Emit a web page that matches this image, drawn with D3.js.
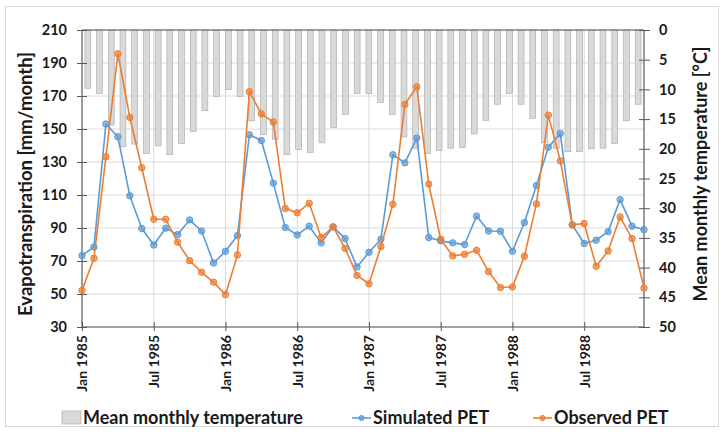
<!DOCTYPE html>
<html>
<head>
<meta charset="utf-8">
<script src="https://cdn.jsdelivr.net/npm/d3@7"></script>
<style>
  body { margin: 0; background: #fff; }
  svg text { font-family: Lato, "Open Sans", sans-serif; font-weight: 700; fill: #1a1a1a; }
</style>
</head>
<body>
<div id="chart"></div>
<script>
// monthly series, Jan 1985 .. Dec 1988
const months = d3.range(48);
const tickMonths = [0, 6, 12, 18, 24, 30, 36, 42];
const tickLabels = ['Jan 1985', 'Jul 1985', 'Jan 1986', 'Jul 1986', 'Jan 1987', 'Jul 1987', 'Jan 1988', 'Jul 1988'];
const petTicks = [30, 50, 70, 90, 110, 130, 150, 170, 190, 210];
const tempTicks = [0, 5, 10, 15, 20, 25, 30, 35, 40, 45, 50];

const temperature = [
  9.8, 10.7, 16.0, 19.6, 19.2, 20.8, 19.5, 21.0, 19.1, 17.1, 13.6, 11.2,
  10.0, 11.2, 15.3, 17.6, 18.4, 21.0, 20.1, 20.6, 19.0, 16.4, 14.2, 10.7,
  10.7, 12.2, 14.2, 18.0, 19.9, 20.8, 20.3, 19.9, 19.8, 17.5, 15.2, 12.5,
  10.7, 12.5, 14.9, 19.0, 19.9, 20.5, 20.5, 20.0, 19.9, 19.1, 15.3, 12.5
];
const simulated = [
  73.3, 78.5, 153.0, 145.3, 109.5, 89.7, 79.7, 89.9, 86.0, 94.9, 88.2, 68.8,
  75.9, 85.4, 146.5, 143.0, 117.2, 90.3, 85.8, 91.1, 81.0, 90.7, 83.6, 66.4,
  75.3, 83.2, 134.4, 129.5, 144.5, 84.2, 82.2, 81.0, 80.0, 97.3, 88.2, 88.0,
  75.9, 93.3, 115.7, 139.0, 147.3, 91.9, 80.6, 82.6, 87.8, 107.2, 91.1, 89.0
];
const observed = [
  52.2, 71.7, 133.1, 195.6, 157.0, 126.5, 95.3, 95.3, 81.4, 70.2, 63.2, 57.1,
  49.6, 73.7, 172.6, 159.2, 154.2, 101.8, 99.2, 105.0, 84.2, 90.7, 77.7, 61.3,
  56.2, 78.8, 104.4, 164.9, 175.6, 116.6, 83.2, 73.1, 74.1, 76.5, 63.6, 53.9,
  54.3, 72.9, 104.6, 158.4, 130.7, 91.9, 92.7, 66.8, 76.1, 96.7, 83.6, 53.6
];

const W = 724, H = 432;
const m = { left: 82, right: 644, top: 30, bottom: 327 };
const axisColor = '#595959';
const gridColor = '#d9d9d9';
const blue = '#5b9bd5', orange = '#ed7d31';

const svg = d3.select('#chart').append('svg').attr('width', W).attr('height', H);

// outer chart border
svg.append('rect')
  .attr('x', 5.5).attr('y', 6.5).attr('width', 713).attr('height', 420)
  .attr('fill', 'none').attr('stroke', '#d9d9d9');

const x = d3.scaleLinear().domain([0, 47]).range([m.left, m.right]);
const xBand = d3.scaleBand().domain(months).range([m.left, m.right]).paddingInner(0.5).paddingOuter(0.25);
const y = d3.scaleLinear().domain([30, 210]).range([m.bottom, m.top]);
const yT = d3.scaleLinear().domain([0, 50]).range([m.top, m.bottom]);

// gridlines
svg.append('g').selectAll('line').data(petTicks).join('line')
  .attr('x1', m.left).attr('x2', m.right)
  .attr('y1', d => y(d)).attr('y2', d => y(d))
  .attr('stroke', gridColor);
svg.append('g').selectAll('line').data(tickMonths.slice(1)).join('line')
  .attr('x1', d => x(d)).attr('x2', d => x(d))
  .attr('y1', m.top).attr('y2', m.bottom)
  .attr('stroke', gridColor);

// temperature bars hanging from the top
svg.append('g').selectAll('rect').data(temperature).join('rect')
  .attr('x', (d, i) => xBand(i))
  .attr('y', yT(0))
  .attr('width', xBand.bandwidth())
  .attr('height', d => yT(d) - yT(0))
  .attr('fill', '#d9d9d9')
  .attr('stroke', '#a6a6a6')
  .attr('stroke-width', 0.6);

// axes box
const box = svg.append('g').attr('stroke', axisColor).attr('stroke-width', 1.2);
box.append('line').attr('x1', m.left).attr('x2', m.right).attr('y1', m.top).attr('y2', m.top);
box.append('line').attr('x1', m.left).attr('x2', m.right).attr('y1', m.bottom).attr('y2', m.bottom);
box.append('line').attr('x1', m.left).attr('x2', m.left).attr('y1', m.top).attr('y2', m.bottom);
box.append('line').attr('x1', m.right).attr('x2', m.right).attr('y1', m.top).attr('y2', m.bottom);

// left axis
const yAxis = d3.axisLeft(y).tickValues(petTicks).tickSizeInner(5).tickSizeOuter(0).tickPadding(10);
const gy = svg.append('g').attr('transform', `translate(${m.left},0)`).call(yAxis);
gy.select('.domain').remove();
gy.selectAll('.tick line').attr('x2', 5).attr('x1', -5).attr('stroke', axisColor);
gy.selectAll('.tick text').style('font-size', '14.5px').attr('fill', '#1a1a1a');

// right axis
const tAxis = d3.axisRight(yT).tickValues(tempTicks).tickSizeInner(5).tickSizeOuter(0).tickPadding(10);
const gt = svg.append('g').attr('transform', `translate(${m.right},0)`).call(tAxis);
gt.select('.domain').remove();
gt.selectAll('.tick line').attr('x1', -5).attr('x2', 6).attr('stroke', axisColor);
gt.selectAll('.tick text').style('font-size', '14.5px').attr('fill', '#1a1a1a');

// bottom axis
const xAxis = d3.axisBottom(x).tickValues(tickMonths).tickFormat((d, i) => tickLabels[i]).tickSizeInner(5).tickSizeOuter(0);
const gx = svg.append('g').attr('transform', `translate(0,${m.bottom})`).call(xAxis);
gx.select('.domain').remove();
gx.selectAll('.tick line').attr('y1', -5).attr('y2', 4).attr('stroke', axisColor);
gx.selectAll('.tick text')
  .style('font-size', '14px').attr('fill', '#1a1a1a')
  .attr('transform', 'rotate(-90)')
  .attr('x', -8).attr('y', 0).attr('dy', '0.35em')
  .attr('text-anchor', 'end');

// axis titles
svg.append('text')
  .attr('transform', 'translate(27,184) rotate(-90)')
  .attr('text-anchor', 'middle').attr('dominant-baseline', 'middle')
  .style('font-size', '18.5px')
  .text('Evapotranspiration [mm/month]');
svg.append('text')
  .attr('transform', 'translate(702,174) rotate(-90)')
  .attr('text-anchor', 'middle').attr('dominant-baseline', 'middle')
  .style('font-size', '18px')
  .text('Mean monthly temperature [°C]');

// PET lines
const line = d3.line().x((d, i) => x(i)).y(d => y(d));
function drawSeries(values, color) {
  const g = svg.append('g');
  g.append('path').datum(values)
    .attr('d', line)
    .attr('fill', 'none')
    .attr('stroke', color)
    .attr('stroke-width', 1.6)
    .attr('stroke-linejoin', 'round');
  g.selectAll('circle').data(values).join('circle')
    .attr('cx', (d, i) => x(i))
    .attr('cy', d => y(d))
    .attr('r', 3.2)
    .attr('fill', color).attr('fill-opacity', 0.7)
    .attr('stroke', color).attr('stroke-width', 1);
}
drawSeries(simulated, blue);
drawSeries(observed, orange);

// legend
const legend = svg.append('g').attr('transform', 'translate(0,418)');
legend.append('rect').attr('x', 62).attr('y', -7).attr('width', 19).attr('height', 13)
  .attr('fill', '#d9d9d9').attr('stroke', '#a6a6a6').attr('stroke-width', 0.6);
legend.append('text').attr('x', 83).attr('dy', '0.35em').style('font-size', '18px').text('Mean monthly temperature');

const legendLines = [
  { x0: 352, label: 'Simulated PET', color: blue },
  { x0: 533, label: 'Observed PET', color: orange }
];
legendLines.forEach(d => {
  legend.append('line').attr('x1', d.x0).attr('x2', d.x0 + 19).attr('stroke', d.color).attr('stroke-width', 1.6);
  legend.append('circle').attr('cx', d.x0 + 9.5).attr('r', 2.6)
    .attr('fill', d.color).attr('fill-opacity', 0.7).attr('stroke', d.color);
  legend.append('text').attr('x', d.x0 + 21).attr('dy', '0.35em').style('font-size', '18px').text(d.label);
});
</script>
</body>
</html>
